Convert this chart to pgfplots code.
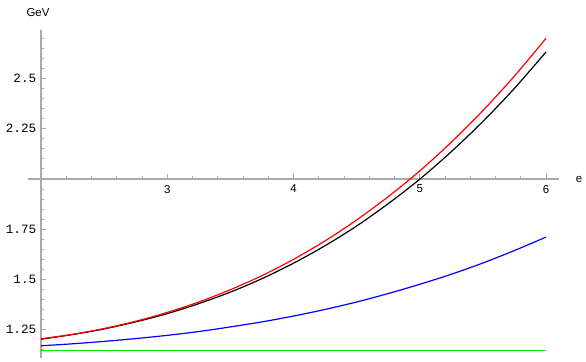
\documentclass[border=0pt]{standalone}
\usepackage{pgfplots}
\pgfplotsset{compat=1.18}
\usepackage{fontspec}
\setmainfont{Liberation Sans}
\newfontfamily\monofont{Liberation Mono}
\definecolor{axgray}{RGB}{170,170,170}
\definecolor{mgreen}{RGB}{0,240,0}
\pgfplotsset{shifted/.style={x filter/.expression={x-2}, y filter/.expression={y-2}}}
\begin{document}
\begin{tikzpicture}
\begin{axis}[
  scale only axis, width=398.25pt, height=246pt,
  xmin=-0.103, xmax=4.103, ymin=-0.891, ymax=0.741,
  axis lines=middle,
  axis line style={-, draw=axgray, line width=1pt},
  tick style={draw=axgray, line width=0.7pt},
  tick align=inside,
  major tick length=3.5pt, minor tick length=2pt,
  xtick={0,1,2,3,4}, xticklabels={,3,4,5,6},
  ytick={-0.75,-0.5,-0.25,0.25,0.5},
  yticklabels={1.25,1.5,1.75,2.25,2.5},
  minor xtick={0.2,0.4,...,4},
  minor ytick={-0.85,-0.8,...,0.72},
  xticklabel style={font=\fontsize{8.6}{10}\selectfont, yshift=-1pt},
  yticklabel style={font=\fontsize{9.5}{10}\monofont, xshift=0pt},
  clip=false,
]
\addplot[shifted, mgreen, line width=1pt] coordinates {(2,1.145) (6,1.145)};
\addplot[shifted, blue, line width=0.9pt, smooth] coordinates {
(2.00,1.170) (2.25,1.180) (2.50,1.192) (2.75,1.206) (3.00,1.222) (3.25,1.241) (3.50,1.264) (3.75,1.289)
(4.00,1.318) (4.25,1.351) (4.50,1.388) (4.75,1.430) (5.00,1.476) (5.25,1.526) (5.50,1.582) (5.75,1.644) (6.00,1.711)};
\addplot[shifted, black, line width=0.9pt, smooth] coordinates {
(2.00,1.203) (2.25,1.226) (2.50,1.254) (2.75,1.289) (3.00,1.330) (3.25,1.380) (3.50,1.437) (3.75,1.504)
(4.00,1.581) (4.25,1.668) (4.50,1.766) (4.75,1.877) (5.00,1.999) (5.25,2.136) (5.50,2.286) (5.75,2.451) (6.00,2.632)};
\addplot[shifted, red, line width=0.9pt, smooth] coordinates {
(2.00,1.205) (2.25,1.227) (2.50,1.256) (2.75,1.292) (3.00,1.336) (3.25,1.388) (3.50,1.449) (3.75,1.519)
(4.00,1.600) (4.25,1.692) (4.50,1.796) (4.75,1.912) (5.00,2.040) (5.25,2.183) (5.50,2.340) (5.75,2.512) (6.00,2.700)};
\node[font=\fontsize{8.6}{10}\selectfont] at (axis cs:-0.024,0.826) {GeV};
\node[font=\fontsize{8.6}{10}\selectfont] at (axis cs:4.261,0.0) {e};
\coordinate (bbll) at (axis cs:-0.3248,-0.9104);
\coordinate (bbur) at (axis cs:4.3168,0.8905);
\end{axis}
\pgfresetboundingbox
\useasboundingbox (bbll) rectangle (bbur);
\end{tikzpicture}
\end{document}
